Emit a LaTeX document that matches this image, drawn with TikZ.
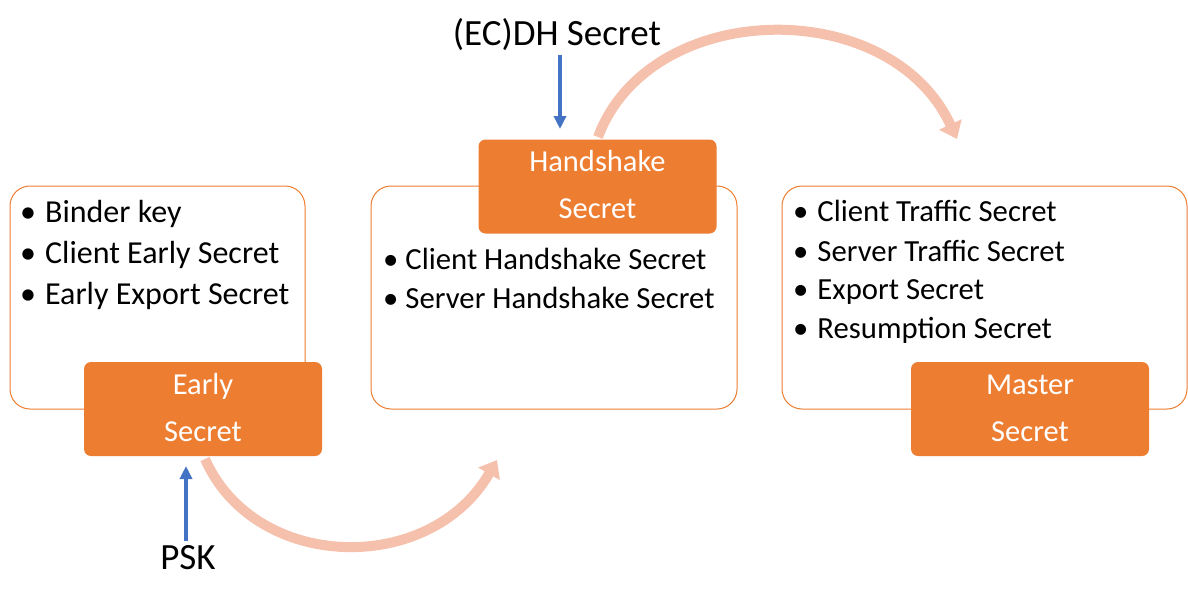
\documentclass[tikz,border=0pt]{standalone}
\usepackage{fontspec}
\setmainfont{Carlito}
\usetikzlibrary{arrows.meta}
\definecolor{accent}{HTML}{ED7D31}
\definecolor{blueA}{HTML}{4472C4}
\definecolor{pinkA}{HTML}{F5C0AC}
\tikzset{
  groupbox/.style={draw=accent, line width=1pt, fill=white, rounded corners=20pt, minimum width=#1, minimum height=223pt, inner sep=0pt},
  secretbox/.style={fill=accent, rounded corners=7pt, minimum width=238pt, minimum height=94pt, inner sep=0pt},
  bul/.style={anchor=base west, inner sep=0pt, font=\fontsize{32}{36}\selectfont},
  buls/.style={anchor=base west, inner sep=0pt, font=\fontsize{30.7}{35}\selectfont},
  wtxt/.style={anchor=base, inner sep=0pt, text=white, font=\fontsize{30.5}{34}\selectfont},
  lbl/.style={anchor=base, inner sep=0pt, font=\fontsize{37}{42}\selectfont},
  inarrow/.style={draw=blueA, line width=3.5pt, -{Triangle[width=12pt,length=13pt]}},
  flow/.style={draw=pinkA, line width=10pt, -{Triangle[width=24pt,length=16pt]}}
}
\begin{document}
\begin{tikzpicture}[x=1pt,y=-1pt]
\useasboundingbox (0,0) rectangle (1188,602);
% group boxes
\node[groupbox=295pt] (g1) at (157.5,297.5) {};
\node[groupbox=366pt] (g2) at (554,297.5) {};
\node[groupbox=405pt] (g3) at (984.5,297.5) {};
% secret boxes
\node[secretbox] (es) at (203,409) {};
\node[secretbox] (hs) at (597.5,186.5) {};
\node[secretbox] (ms) at (1030,409) {};
\node[wtxt] (es1) at (203,394) {Early};
\node[wtxt] (es2) at (203,441) {Secret};
\node[wtxt] (hs1) at (597.5,171) {Handshake};
\node[wtxt] (hs2) at (597.5,218) {Secret};
\node[wtxt] (ms1) at (1030,394) {Master};
\node[wtxt] (ms2) at (1030,441) {Secret};
% bullets
\node[bul] (b11) at (20,222) {\textbullet\hspace{9pt}Binder key};
\node[bul] (b12) at (20,263) {\textbullet\hspace{9pt}Client Early Secret};
\node[bul] (b13) at (20,304) {\textbullet\hspace{9pt}Early Export Secret};
\node[buls] (b21) at (383,269) {\textbullet\hspace{7pt}Client Handshake Secret};
\node[buls] (b22) at (383,308) {\textbullet\hspace{7pt}Server Handshake Secret};
\node[buls] (b31) at (793,221) {\textbullet\hspace{9pt}Client Traffic Secret};
\node[buls] (b32) at (793,261) {\textbullet\hspace{9pt}Server Traffic Secret};
\node[buls] (b33) at (793,299) {\textbullet\hspace{9pt}Export Secret};
\node[buls] (b34) at (793,338) {\textbullet\hspace{9pt}Resumption Secret};
% inputs
\node[lbl] (dh) at (557,46) {(EC)DH Secret};
\node[lbl] (psk) at (188,569) {PSK};
\coordinate (dhs) at (560,55);
\coordinate (dhe) at (560,129);
\coordinate (pss) at (186,541);
\coordinate (pse) at (186,466);
\draw[inarrow] (dhs) -- (dhe);
\draw[inarrow] (pss) -- (pse);
% flow arrows
\coordinate (f1s) at (205,459);
\coordinate (f1e) at (497,460);
\coordinate (f2s) at (598,137);
\coordinate (f2e) at (957,139);
\draw[flow] (f1s) .. controls (255,572) and (430,576) .. (f1e);
\draw[flow] (f2s) .. controls (650,-2) and (890,-6) .. (f2e);
\end{tikzpicture}
\end{document}
